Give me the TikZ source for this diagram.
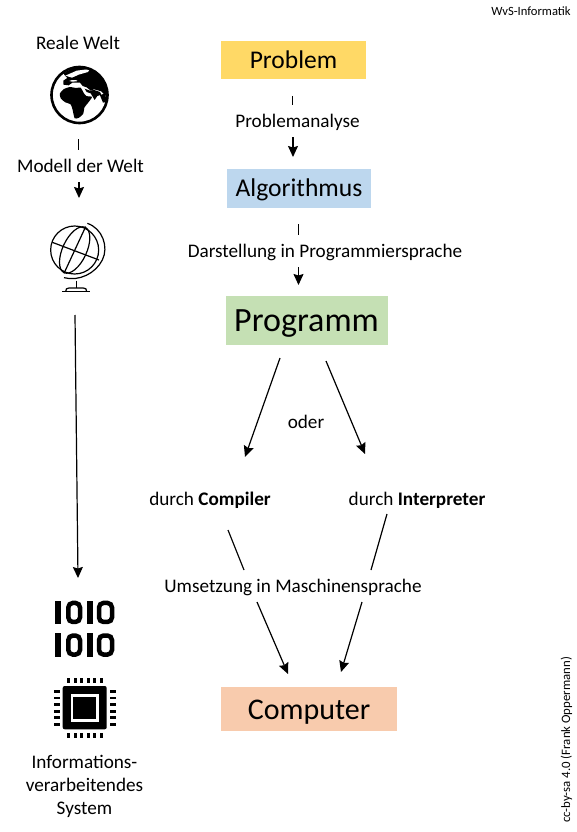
\documentclass[tikz,border=0pt]{standalone}
\usepackage{fontspec}
\setmainfont{Carlito}
\usetikzlibrary{arrows.meta}
\newcommand{\fpx}[1]{\fontsize{#1}{23}\selectfont}
\tikzset{
  x=1pt,y=-1pt,
  lbl/.style={anchor=base,inner sep=0pt,font=\fpx{19.2},align=center},
  boxn/.style={minimum height=0pt,inner sep=0pt,anchor=center},
  conn/.style={draw=black,line width=1.2pt},
  tick/.style={draw=black,line width=1pt},
  arr/.style={conn,-{Stealth[length=11pt,width=10pt,inset=1.5pt]}}
}
\begin{document}
\begin{tikzpicture}
\useasboundingbox (0,0) rectangle (576,832);
\fill[white] (0,0) rectangle (576,832);
% boxes
\node[boxn,fill={rgb,255:red,255;green,217;blue,102},minimum width=145pt,minimum height=38pt,font=\fpx{25.5},text height=18pt,text depth=1.2pt] (problem) at (293.5,60) {Problem};
\node[boxn,fill={rgb,255:red,189;green,215;blue,238},minimum width=144pt,minimum height=39pt,font=\fpx{25.6},text height=16pt,text depth=1pt] (algo) at (299,188.5) {Algorithmus\hspace{2pt}};
\node[boxn,fill={rgb,255:red,197;green,224;blue,180},minimum width=162pt,minimum height=49pt,font=\fpx{34},text height=24pt,text depth=1.6pt] (programm) at (306.5,320.5) {Programm\hspace{3pt}};
\node[boxn,fill={rgb,255:red,248;green,203;blue,173},minimum width=176pt,minimum height=44pt,font=\fpx{30},text height=21pt,text depth=1pt] (computer) at (309,709) {Computer\hspace{2pt}};
% labels
\node[lbl] (reale) at (78,49.5) {Reale Welt};
\node[lbl] (modell) at (80.5,172.5) {Modell der Welt};
\node[lbl] (panalyse) at (297.5,127.5) {Problemanalyse};
\node[lbl] (darst) at (325,257.5) {Darstellung in Programmiersprache};
\node[lbl] (oder) at (306,428) {oder};
\node[lbl] (compiler) at (210,505.5) {durch \textbf{Compiler}};
\node[lbl] (interp) at (417,505.5) {durch \textbf{Interpreter}};
\node[lbl] (umsetz) at (293,592.5) {Umsetzung in Maschinensprache};
\node[lbl,anchor=north] (info) at (84.5,755.5) {Informations-\\verarbeitendes\\System};
\node[anchor=base,inner sep=0pt,font=\fpx{12.6}] (wvs) at (531,16) {WvS-Informatik};
\node[anchor=base,inner sep=0pt,font=\fpx{12.8},rotate=90] (cc) at (570,740) {cc-by-sa 4.0 (Frank Oppermann)};
% connector ends
\coordinate (a1) at (292.5,96); \coordinate (a2) at (292.5,105);
\coordinate (a3) at (293,137); \coordinate (a4) at (293,157);
\coordinate (b1) at (298.5,224); \coordinate (b2) at (298.5,235);
\coordinate (b3) at (298.5,267); \coordinate (b4) at (298.5,285);
\coordinate (c1) at (78.5,139); \coordinate (c2) at (78.5,150);
\coordinate (c3) at (79,182); \coordinate (c4) at (79,198);
\coordinate (d1) at (75,315); \coordinate (d2) at (78,578);
\coordinate (e1) at (280,358); \coordinate (e2) at (245,457);
\coordinate (f1) at (326,361); \coordinate (f2) at (365,454);
\coordinate (g1) at (228,530); \coordinate (g2) at (244,570);
\coordinate (g3) at (257,602); \coordinate (g4) at (288,674);
\coordinate (h1) at (387,514); \coordinate (h2) at (371,570);
\coordinate (h3) at (362,602); \coordinate (h4) at (341,672);
\draw[tick] (a1) -- (a2);
\draw[arr] (a3) -- (a4);
\draw[tick] (b1) -- (b2);
\draw[arr] (b3) -- (b4);
\draw[tick] (c1) -- (c2);
\draw[arr] (c3) -- (c4);
\draw[arr] (d1) -- (d2);
\draw[arr] (e1) -- (e2);
\draw[arr] (f1) -- (f2);
\draw[conn] (g1) -- (g2);
\draw[arr] (g3) -- (g4);
\draw[conn] (h1) -- (h2);
\draw[arr] (h3) -- (h4);
% earth
\begin{scope}
\clip (79.5,95) circle (28pt);
\begin{scope}[shift={(44,60)},x=0.3333pt,y=-0.3333pt]
\fill[black] (58,40) -- (95,20) -- (150,18) -- (200,60) -- (195,100) -- (186,108) -- (172,94) -- (150,88)
  -- (140,92) -- (128,82) -- (116,78) -- (108,68) -- (85,68) -- (74,76) -- (58,74) -- (58,62) -- (70,54) -- (64,48) -- cycle;
\fill[white] (64,47) -- (98,32) -- (138,27) -- (132,36) -- (104,44) -- (84,53) -- cycle;
\fill[white] (76,63) -- (84,60) -- (100,61) -- (98,64) -- (84,65) -- cycle;
\fill[black] plot[smooth cycle,tension=0.4] coordinates {(48,100) (60,87) (78,81) (96,84) (110,83) (118,97) (127,108) (144,111) (131,130) (121,143) (118,161) (105,173) (92,175) (86,150) (80,133) (64,127) (50,115)};
\fill[black] (122,86) -- (138,92) -- (150,90) -- (168,96) -- (172,104) -- (160,108) -- (152,120) -- (140,100) -- (128,96) -- cycle;
\fill[black] (168,106) -- (182,100) -- (190,125) -- (177,128) -- cycle;
\end{scope}
\end{scope}
\draw[line width=2.6pt] (79.5,95) circle (28pt);
% globe
\begin{scope}[shift={(44,215)},x=0.3333pt,y=-0.3333pt,line width=1.2pt]
\draw (92,105) circle (24pt);
\draw[shift={(92,105)},rotate=65] (0pt,0pt) ellipse [x radius=25pt,y radius=12pt];
\draw (125,35) -- (60,175);
\draw (25,82) -- (165,135);
\draw (130,25) .. controls (175,40) and (195,95) .. (175,135) .. controls (155,175) and (105,200) .. (60,188);
\draw (97,197) -- (97,218);
\draw (55,230) -- (138,230);
\draw (65,230) .. controls (65,222) and (68,219) .. (75,219) -- (118,219) .. controls (125,219) and (128,222) .. (128,230);
\end{scope}
% binary
\foreach \yy in {600.7,633.3}{
  \fill[black] (55,\yy) rectangle +(5.5,23.5);
  \fill[black] (87,\yy) rectangle +(5.5,23.5);
  \draw[line width=4.5pt,rounded corners=4.5pt] (68.3,\yy+2.25) rectangle (80,\yy+21.25);
  \draw[line width=4.5pt,rounded corners=4.5pt] (99,\yy+2.25) rectangle (112,\yy+21.25);
}
% chip
\fill[black,rounded corners=2pt] (62.7,686) rectangle (106.7,729.3);
\draw[white,line width=2.6pt] (72,695.3) rectangle (97.7,720.3);
\foreach \i in {0,...,5}{
  \fill[black] (67.3+\i*6.5,677.7) rectangle +(2.7,5);
  \fill[black] (67.3+\i*6.5,732.7) rectangle +(2.7,5);
  \fill[black] (54.3,690+\i*6.6) rectangle +(5.7,2.7);
  \fill[black] (110,690+\i*6.6) rectangle +(5.5,2.7);
}
\end{tikzpicture}
\end{document}
